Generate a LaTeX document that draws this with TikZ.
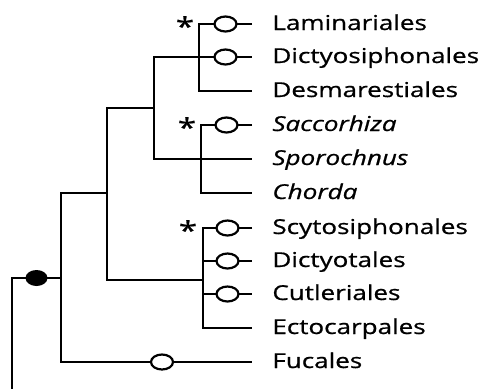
\documentclass[tikz,border=0pt]{standalone}
\usepackage{fontspec}
\setmainfont{Open Sans}[FakeBold=0.7]
\usetikzlibrary{shapes.geometric,calc}
\newcommand*{\wide}[1]{\scalebox{1.27}[1]{#1}}

\begin{document}
\begin{tikzpicture}[x=1pt, y=-1pt, line width=2.8pt,
    taxon/.style={anchor=base west, inner sep=0pt, font=\fontsize{20.5}{22}\selectfont},
    gain/.style={ellipse, draw, fill=white, line width=2.2pt, minimum width=22pt, minimum height=15pt, inner sep=0pt},
    loss/.style={ellipse, fill=black, minimum width=22pt, minimum height=16pt, inner sep=0pt},
    astx/.style={inner sep=0pt, font=\fontsize{26}{26}\selectfont}]
\useasboundingbox (0,0) rectangle (500,389);

%Leaf tips
\coordinate (lam) at (252,24);
\coordinate (dsi) at (252,57);
\coordinate (des) at (252,91);
\coordinate (sac) at (252,125);
\coordinate (spo) at (252,159);
\coordinate (cho) at (252,193);
\coordinate (scy) at (252,228);
\coordinate (dic) at (252,261);
\coordinate (cut) at (252,294);
\coordinate (ect) at (252,328);
\coordinate (fuc) at (252,362);

%Inner nodes
\coordinate (kA) at (199,57);
\coordinate (kS) at (201,159);
\coordinate (kB) at (154,108);
\coordinate (kT) at (203,280);
\coordinate (kC) at (107,193);
\coordinate (kD) at (61,278);
\coordinate (root) at (12,278);
\coordinate (base) at (12,389);

%Labels
\node[taxon] (tLam) at (271,30) {\wide{Laminariales}};
\node[taxon] (tDsi) at (271,63) {\wide{Dictyosiphonales}};
\node[taxon] (tDes) at (271,97) {\wide{Desmarestiales}};
\node[taxon] (tSac) at (271,131) {\wide{\itshape Saccorhiza}};
\node[taxon] (tSpo) at (271,165) {\wide{\itshape Sporochnus}};
\node[taxon] (tCho) at (271,199) {\wide{\itshape Chorda}};
\node[taxon] (tScy) at (271,234) {\wide{Scytosiphonales}};
\node[taxon] (tDic) at (271,267) {\wide{Dictyotales}};
\node[taxon] (tCut) at (271,300) {\wide{Cutleriales}};
\node[taxon] (tEct) at (271,334) {\wide{Ectocarpales}};
\node[taxon] (tFuc) at (271,368) {\wide{Fucales}};

%Branches
\draw (lam) -| (kA) |- (des);
\draw (kA) -- (dsi);
\draw (sac) -| (kS) |- (cho);
\draw (kS) -- (spo);
\draw (kA) -| (kB) |- (kS);
\draw (scy) -| (kT) |- (ect);
\draw (kT |- dic) -- (dic);
\draw (kT |- cut) -- (cut);
\draw (kB) -| (kC) |- (kT);
\draw (kC) -| (kD) |- (fuc);
\draw (kD) -- (root) -- (base);

%Character states
\node[gain] (gLam) at ($(kA |- lam)!0.5!(lam)$) {};
\node[gain] (gDsi) at ($(kA)!0.5!(dsi)$) {};
\node[gain] (gSac) at ($(kS |- sac)!0.5!(sac)$) {};
\node[gain] (gScy) at ($(kT |- scy)!0.5!(scy)$) {};
\node[gain] (gDic) at ($(kT |- dic)!0.5!(dic)$) {};
\node[gain] (gCut) at ($(kT |- cut)!0.5!(cut)$) {};
\node[gain] (gFuc) at (162,362) {};
\node[loss] (lRoot) at ($(root)!0.5!(kD)$) {};

%Asterisks
\node[astx] (aLam) at (185,26) {\wide{*}};
\node[astx] (aSac) at (187,127) {\wide{*}};
\node[astx] (aScy) at (188,230) {\wide{*}};
\end{tikzpicture}
\end{document}
